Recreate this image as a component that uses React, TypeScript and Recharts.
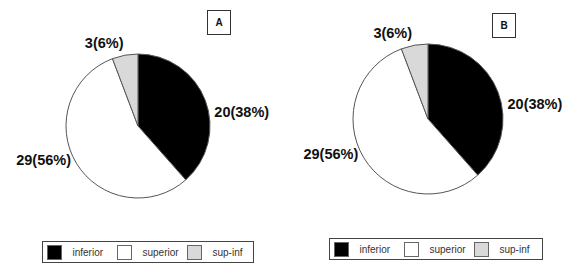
import React from 'react';
import { PieChart, Pie, Cell } from 'recharts';

const categories = ['inferior', 'superior', 'sup-inf'];
const countsA = [20, 29, 3];
const countsB = [20, 29, 3];

const COLORS = ['#000000', '#ffffff', '#d9d9d9'];

// where each slice label sits, in units of the pie radius
const LABEL_SPOTS: Record<string, { dx: number; dy: number; anchor: 'start' | 'middle' | 'end' }> = {
  inferior: { dx: 1.06, dy: -0.2, anchor: 'start' },
  superior: { dx: -0.93, dy: 0.47, anchor: 'end' },
  'sup-inf': { dx: -0.47, dy: -1.15, anchor: 'middle' },
};

const rows = (counts: number[]) => categories.map((name, i) => ({ name, value: counts[i] }));

const renderLabel = (props: any) => {
  const { cx, cy, outerRadius, name, value, percent } = props;
  const spot = LABEL_SPOTS[name];
  return (
    <text
      x={cx + spot.dx * outerRadius}
      y={cy + spot.dy * outerRadius}
      textAnchor={spot.anchor}
      dominantBaseline="central"
      fontFamily="'Liberation Sans', Arial, sans-serif"
      fontWeight="bold"
      fontSize={14.5}
      fill="#111"
    >
      {`${value}(${Math.round(percent * 100)}%)`}
    </text>
  );
};

const Tag = ({ x, y, text }: { x: number; y: number; text: string }) => (
  <div
    style={{
      position: 'absolute', left: x, top: y, width: 24, height: 25, boxSizing: 'border-box',
      border: '1px solid #333', display: 'flex', alignItems: 'center', justifyContent: 'center',
      fontFamily: "'Liberation Sans', Arial, sans-serif", fontWeight: 'bold', fontSize: 10, color: '#111',
    }}
  >
    {text}
  </div>
);

const LegendBox = ({ x, y, w }: { x: number; y: number; w: number }) => (
  <div
    style={{
      position: 'absolute', left: x, top: y, width: w, height: 22, boxSizing: 'border-box',
      border: '1.5px solid #444', display: 'flex', alignItems: 'center', paddingLeft: 3.5,
      fontFamily: "'Liberation Sans', Arial, sans-serif", fontSize: 10, color: '#333', whiteSpace: 'nowrap',
    }}
  >
    {categories.map((c, i) => (
      <React.Fragment key={c}>
        <span
          style={{
            width: 15, height: 15, boxSizing: 'border-box', background: COLORS[i], flex: 'none',
            border: '1px solid #666', display: 'inline-block', marginRight: 11,
          }}
        />
        <span style={{ width: i === 2 ? 'auto' : 44, flex: 'none' }}>{c}</span>
      </React.Fragment>
    ))}
  </div>
);

const App: React.FC = () => (
  <div style={{ position: 'absolute', left: 0, top: 0, width: 573, height: 264, background: '#fff' }}>
    <PieChart width={573} height={264} margin={{ top: 0, right: 0, bottom: 0, left: 0 }}>
      <Pie
        data={rows(countsA)}
        dataKey="value"
        nameKey="name"
        cx={138}
        cy={126}
        outerRadius={72}
        startAngle={90}
        endAngle={-270}
        stroke="#555"
        strokeWidth={1}
        labelLine={false}
        label={renderLabel}
        isAnimationActive={false}
      >
        {categories.map((c, i) => (
          <Cell key={c} fill={COLORS[i]} />
        ))}
      </Pie>
      <Pie
        data={rows(countsB)}
        dataKey="value"
        nameKey="name"
        cx={428}
        cy={119}
        outerRadius={75}
        startAngle={90}
        endAngle={-270}
        stroke="#555"
        strokeWidth={1}
        labelLine={false}
        label={renderLabel}
        isAnimationActive={false}
      >
        {categories.map((c, i) => (
          <Cell key={c} fill={COLORS[i]} />
        ))}
      </Pie>
    </PieChart>
    <Tag x={207} y={10} text="A" />
    <Tag x={492} y={13} text="B" />
    <LegendBox x={42} y={241} w={212} />
    <LegendBox x={329} y={238} w={214} />
  </div>
);

export default App;
